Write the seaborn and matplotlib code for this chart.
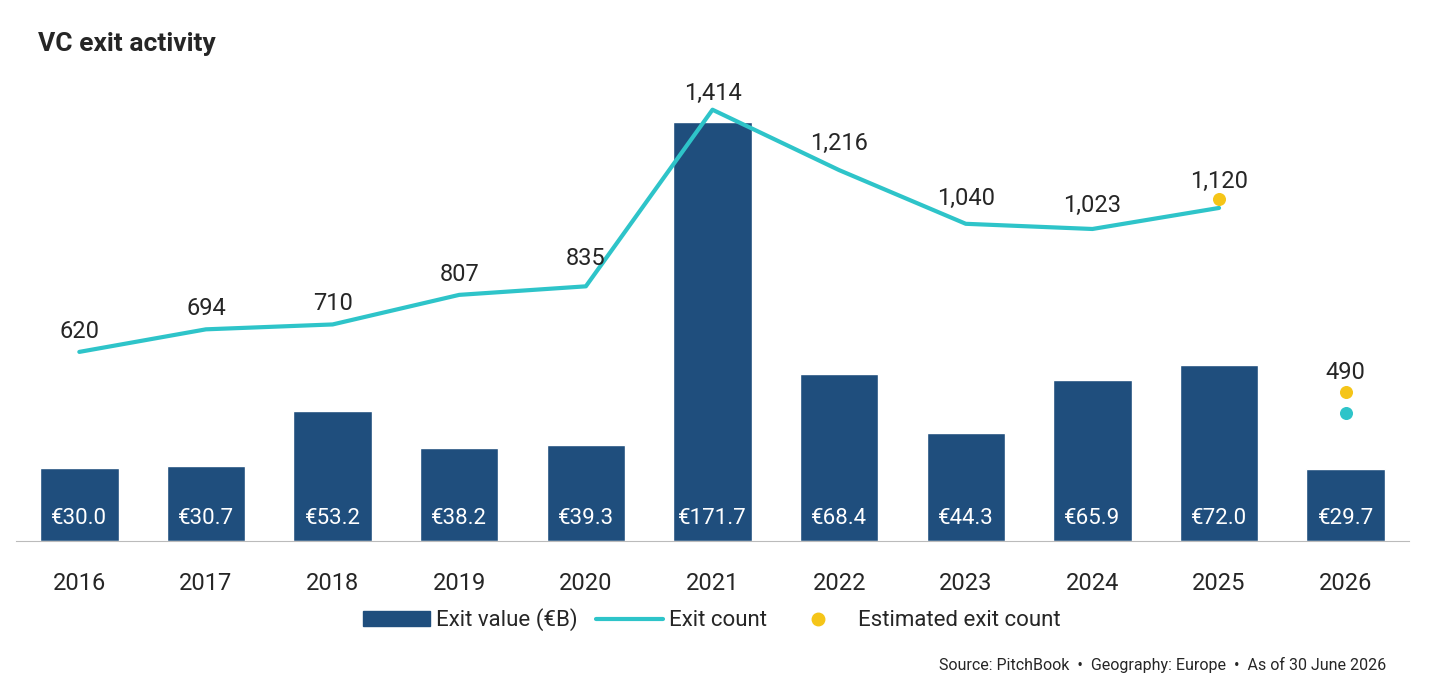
import matplotlib
matplotlib.use("Agg")
import matplotlib.pyplot as plt
import seaborn as sns
import pandas as pd
from matplotlib.lines import Line2D
from matplotlib.patches import Patch

years = ["2016", "2017", "2018", "2019", "2020", "2021", "2022", "2023", "2024", "2025", "2026"]
exit_value = [30.0, 30.7, 53.2, 38.2, 39.3, 171.7, 68.4, 44.3, 65.9, 72.0, 29.7]
exit_count = [620, 694, 710, 807, 835, 1414, 1216, 1040, 1023, 1092, 420]
est_years = ["2025", "2026"]
est_count = [1120, 490]
count_labels = [620, 694, 710, 807, 835, 1414, 1216, 1040, 1023, 1120, 490]

bar_col = "#1f4e7d"
line_col = "#2ec4c9"
est_col = "#f5c518"

sns.set_style("white")
plt.rcParams['font.family'] = ['Roboto', 'DejaVu Sans']

df = pd.DataFrame({"year": years, "value": exit_value, "count": exit_count})

fig = plt.figure(figsize=(14.56, 6.98), dpi=100)
ax = fig.add_axes([16 / 1456, 1 - 541 / 698, 1393 / 1456, 461 / 698])
sns.barplot(data=df, x="year", y="value", color=bar_col, width=0.62, ax=ax, saturation=1)
ax.set_ylim(0, 461 / 2.44)
ax.set_xlim(-0.5, len(years) - 0.5)
for i, v in enumerate(exit_value):
    ax.text(i, 5, f"€{v:.1f}", ha="center", va="bottom", color="white", fontsize=16)

ax2 = ax.twinx()
xs = list(range(len(years)))
sns.lineplot(x=xs[:10], y=exit_count[:10], color=line_col, lw=3, ax=ax2)
ax2.scatter([10], [exit_count[10]], color=line_col, s=70, zorder=3)
ax2.scatter([9, 10], est_count, color=est_col, s=70, zorder=4)
ax2.set_ylim(0, 461 / 0.305)
ax2.set_xlim(-0.5, len(years) - 0.5)
offsets = [30, 30, 30, 30, 55, 15, 50, 45, 40, 20, 25]
for i, c in enumerate(count_labels):
    base = est_count[1] if i == 10 else (est_count[0] if i == 9 else exit_count[i])
    ax2.text(i, base + offsets[i], f"{c:,}", ha="center", va="bottom", fontsize=17)

for a in (ax, ax2):
    a.set_yticks([])
    a.set_ylabel("")
    for s in ["top", "right", "left"]:
        a.spines[s].set_visible(False)
ax.spines["bottom"].set_color("#bbbbbb")
ax2.spines["bottom"].set_visible(False)
ax.set_xlabel("")
ax.tick_params(axis="x", length=0, labelsize=17, pad=22)

fig.text(38 / 1456, 1 - 44 / 698, "VC exit activity", fontsize=19, fontweight="bold", va="center")

handles = [Patch(color=bar_col),
           Line2D([0], [0], color=line_col, lw=3),
           Line2D([0], [0], marker="o", lw=0, color=est_col, markersize=9)]
fig.legend(handles, ["Exit value (€B)", "Exit count", "Estimated exit count"],
           loc="center", bbox_to_anchor=(712 / 1456, 1 - 620 / 698), ncol=3,
           frameon=False, fontsize=16, handlelength=3.0, columnspacing=0.8, handletextpad=0.3)
fig.text(1386 / 1456, 1 - 665 / 698,
         "Source: PitchBook  •  Geography: Europe  •  As of 30 June 2026",
         ha="right", va="center", fontsize=11.5)

fig.savefig("out.png", dpi=100)
